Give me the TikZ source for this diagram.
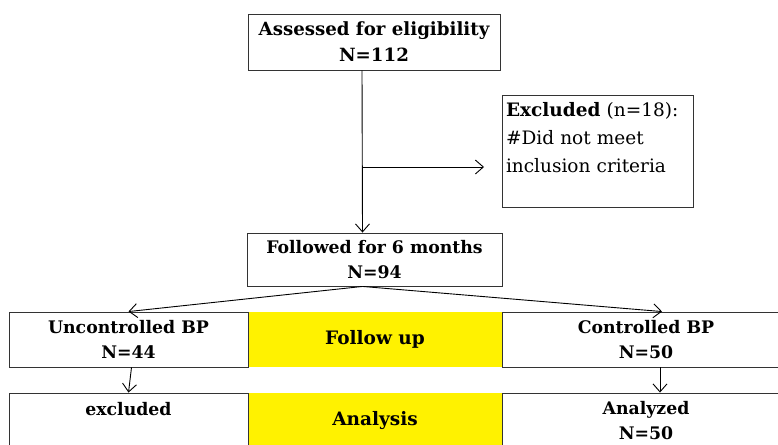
\documentclass[tikz,border=0pt]{standalone}
\usepackage{fontspec}
\setmainfont{DejaVu Serif}
\usetikzlibrary{arrows.meta}

\begin{document}
\begin{tikzpicture}[x=1pt, y=-1pt,
    every node/.style={rectangle, draw=black!80, line width=0.9pt, inner sep=2pt, align=center,
      font=\bfseries\fontsize{17.3}{25}\selectfont},
    hl/.style={fill=yellow, draw=none, font=\bfseries\fontsize{18.5}{25}\selectfont},
    arr/.style={line width=0.9pt, -{Straight Barb[length=8pt, width=14pt]}}]
    \useasboundingbox (0,0) rectangle (778,444);
    \clip (0,0) rectangle (778,444);

    % yellow stage labels
    \node[hl, minimum width=254, minimum height=55] (E) at (375,339.5) {Follow up};
    \node[hl, minimum width=254, minimum height=56] (H) at (375,421) {Analysis};

    \node[minimum width=252, minimum height=56, font=\bfseries\fontsize{18.2}{26}\selectfont] (A)
      at (374,42) {Assessed for eligibility\\N=112};
    \node[minimum width=191, minimum height=112, text width=183, align=left,
      font=\fontsize{18.5}{28}\selectfont] (B) at (597.5,151)
      {\textbf{Excluded} (n=18):\\\#Did not meet\\inclusion criteria\\\mbox{}};
    \node[minimum width=255, minimum height=53] (C) at (374.5,259.5) {Followed for 6 months\\N=94};
    \node[minimum width=239, minimum height=55] (D) at (128.5,339.5) {Uncontrolled BP\\N=44};
    \node[minimum width=288, minimum height=55] (F) at (646,339.5) {Controlled BP\\N=50};
    \node[minimum width=239, minimum height=56] (G) at (128.5,421) {excluded\\\mbox{}};
    \node[minimum width=288, minimum height=56] (I) at (646,421) {Analyzed\\N=50};

    \coordinate (s) at (362,167);
    \coordinate (e) at (484,167);

    \draw[arr] ([xshift=-12pt]A.south) -- ([xshift=-12pt]C.north);
    \draw[arr] (s) -- (e);
    \draw[arr] ([xshift=-12pt]C.south) -- (D.north);
    \draw[arr] ([xshift=-12pt]C.south) -- ([xshift=16pt]F.north);
    \draw[arr] ([xshift=3pt]D.south) -- (G.north);
    \draw[arr] ([xshift=14pt]F.south) -- ([xshift=14pt]I.north);
\end{tikzpicture}
\end{document}
